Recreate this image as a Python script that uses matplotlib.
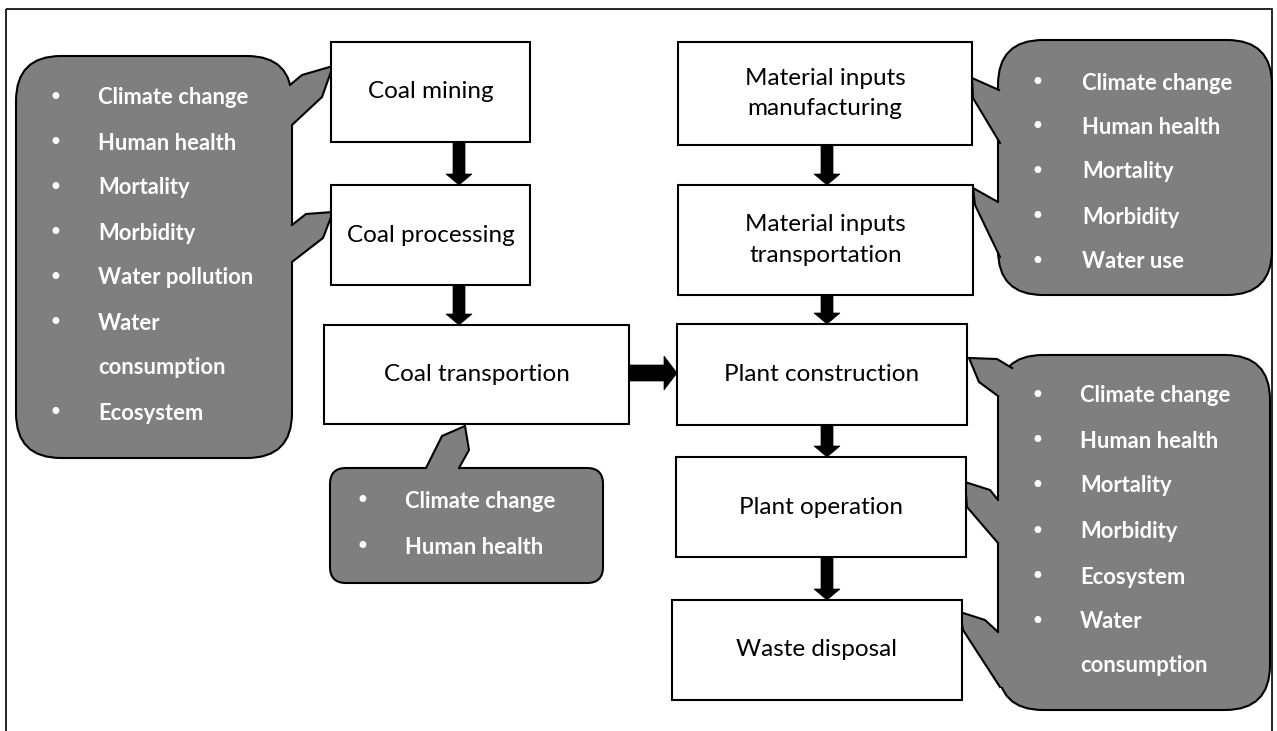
import matplotlib.pyplot as plt
from matplotlib.patches import Rectangle, FancyBboxPatch, Polygon, FancyArrow

# process steps (label text)
steps = ["Coal mining", "Coal processing", "Coal transportion",
         "Material inputs\nmanufacturing", "Material inputs\ntransportation",
         "Plant construction", "Plant operation", "Waste disposal"]
# impact lists for each callout
left_items = ["Climate change", "Human health", "Mortality", "Morbidity",
              "Water pollution", "Water", "consumption", "Ecosystem"]
left_bullets = [1, 1, 1, 1, 1, 1, 0, 1]
bottom_items = ["Climate change", "Human health"]
bottom_bullets = [1, 1]
top_right_items = ["Climate change", "Human health", "Mortality", "Morbidity", "Water use"]
top_right_bullets = [1, 1, 1, 1, 1]
right_items = ["Climate change", "Human health", "Mortality", "Morbidity",
               "Ecosystem", "Water", "consumption"]
right_bullets = [1, 1, 1, 1, 1, 1, 0]

# layout (pixels): x0, y0, x1, y1
step_boxes = [(331, 42, 530, 142), (331, 185, 530, 285), (324, 325, 629, 424),
              (678, 42, 972, 145), (678, 185, 973, 295),
              (677, 324, 967, 425), (676, 457, 966, 557), (672, 600, 962, 700)]

GRAY = "#7f7f7f"
W, H = 1277, 731
fig = plt.figure(figsize=(W / 100, H / 100), dpi=100)
ax = fig.add_axes([0, 0, 1, 1])
ax.set_xlim(0, W)
ax.set_ylim(H, 0)
ax.axis("off")

# outer frame
ax.add_patch(Rectangle((6, 9), 1266, 740, fill=False, ec="black", lw=1.2, zorder=1))

for (x0, y0, x1, y1), lab in zip(step_boxes, steps):
    ax.add_patch(Rectangle((x0, y0), x1 - x0, y1 - y0, fc="white", ec="black", lw=1.5, zorder=3))
    ax.text((x0 + x1) / 2, (y0 + y1) / 2, lab, ha="center", va="center",
            fontsize=17.5, family="Lato", linespacing=1.55, zorder=4)


def arrow(x0, y0, x1, y1, width=12, hw=26, hl=11):
    ax.add_patch(FancyArrow(x0, y0, x1 - x0, y1 - y0, width=width, head_width=hw,
                            head_length=hl, length_includes_head=True,
                            fc="black", ec="black", lw=0.5, zorder=5))


arrow(459, 142, 459, 185)
arrow(459, 285, 459, 325)
arrow(827, 145, 827, 185)
arrow(827, 295, 827, 324)
arrow(827, 425, 827, 457)
arrow(827, 557, 827, 600)
arrow(629, 373, 677, 373, width=16, hw=34, hl=13)


def callout(x0, y0, x1, y1, r):
    ax.add_patch(FancyBboxPatch((x0, y0), x1 - x0, y1 - y0,
                                boxstyle=f"round,pad=0,rounding_size={r}",
                                fc=GRAY, ec="black", lw=1.5, zorder=2))


def tail(pts, inner):
    # fill covers the callout border, outline drawn on the open side only
    ax.add_patch(Polygon(pts + inner, closed=True, fc=GRAY, ec="none", zorder=2.5))
    xs, ys = zip(*pts)
    ax.plot(xs, ys, color="black", lw=1.5, zorder=2.6, solid_joinstyle="miter")


def items(labels, bullets, ys, bx, tx):
    for lab, b, y in zip(labels, bullets, ys):
        if b:
            ax.text(bx, y, "\u2022", ha="center", va="center", color="white",
                    fontsize=17, family="DejaVu Sans", zorder=6)
        ax.text(tx, y, lab, ha="left", va="center", color="white",
                fontsize=15.8, family="Lato", fontweight="bold", zorder=6)


# left callout
callout(16, 56, 292, 458, 45)
tail([(290, 85), (302, 75), (333, 66), (322, 97), (292, 125)], [(286, 125), (284, 88)])
tail([(292, 225), (306, 214), (333, 212), (323, 238), (292, 262)], [(287, 262), (287, 225)])
items(left_items, left_bullets, [98, 143, 188, 233, 278, 323, 368, 413], 55, 98)

# bottom callout
callout(330, 468, 603, 583, 16)
tail([(426, 468), (442, 436), (465, 426), (469, 450), (459, 468)], [(459, 473), (426, 473)])
items(bottom_items, bottom_bullets, [501, 547], 362, 405)

# top right callout
callout(998, 40, 1272, 295, 45)
tail([(999, 90), (972, 78), (973, 98), (1000, 143)], [(1004, 143), (1004, 90)])
tail([(998, 202), (973, 188), (975, 205), (1000, 257)], [(1004, 257), (1004, 202)])
items(top_right_items, top_right_bullets, [83, 127, 172, 217, 262], 1037, 1082)

# bottom right callout
callout(998, 355, 1270, 710, 45)
tail([(1012, 368), (997, 359), (969, 358), (979, 382), (998, 396)], [(1006, 396), (1014, 372)])
tail([(998, 500), (990, 490), (965, 482), (967, 507), (998, 543)], [(1004, 543), (1004, 500)])
tail([(998, 632), (985, 620), (960, 612), (963, 630), (1000, 687)], [(1005, 687), (1005, 632)])
items(right_items, right_bullets, [396, 441, 486, 532, 577, 622, 666], 1037, 1080)

fig.savefig("out.png", dpi=100)
